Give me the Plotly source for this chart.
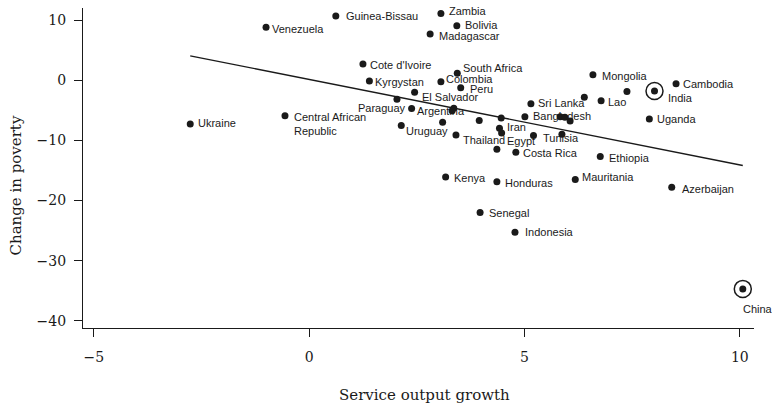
import numpy as np
import plotly.graph_objects as go

# Countries: service output growth vs. change in poverty
countries = [
    "Ukraine", "Central African<br>Republic", "Venezuela", "Guinea-Bissau", "Zambia",
    "Bolivia", "Madagascar", "Cote d'Ivoire", "Kyrgystan", "South Africa",
    "Colombia", "Peru", "El Salvador", "Paraguay", "Argentina",
    "Uruguay", "Thailand", "Iran", "Egypt", "Costa Rica",
    "Bangladesh", "Sri Lanka", "Lao", "Tunisia", "Ethiopia",
    "Mongolia", "Cambodia", "India", "Uganda", "Azerbaijan",
    "Kenya", "Honduras", "Mauritania", "Senegal", "Indonesia",
    "China",
]
service_growth = [
    -2.76, -0.56, -1.00, 0.62, 3.06,
    3.43, 2.81, 1.25, 1.40, 3.44,
    3.06, 3.52, 2.45, 2.04, 2.38,
    2.14, 3.41, 4.42, 4.47, 4.80,
    5.01, 5.15, 6.78, 5.21, 6.76,
    6.59, 8.52, 8.02, 7.90, 8.42,
    3.17, 4.36, 6.18, 3.97, 4.78,
    10.07,
]
poverty_change = [
    -7.3, -5.9, 8.8, 10.66, 11.1,
    9.06, 7.67, 2.69, -0.13, 1.15,
    -0.25, -1.25, -2.0, -3.17, -4.7,
    -7.55, -9.1, -8.0, -8.8, -12.0,
    -6.06, -3.9, -3.4, -9.2, -12.7,
    0.92, -0.58, -1.8, -6.45, -17.8,
    -16.1, -16.9, -16.5, -22.0, -25.3,
    -34.7,
]

# Observations drawn without a name label
unlabeled_growth = [3.36, 3.32, 3.10, 3.95, 4.46, 4.36, 6.39, 7.38, 5.83, 5.94, 6.06, 5.87]
unlabeled_poverty = [-4.65, -5.1, -7.0, -6.7, -6.3, -11.5, -2.85, -1.9, -6.06, -6.16, -6.78, -9.0]

# Countries singled out with a ring
highlighted = ["India", "China"]

x_ticks = [-5, 0, 5, 10]
y_ticks = [10, 0, -10, -20, -30, -40]

# Label placement: pixel offset (right, down) of each label from its dot, and anchor side
label_offsets = {
    "Ukraine": (6.7, -1, "left"),
    "Central African<br>Republic": (7.7, 8.8, "left"),
    "Venezuela": (5, 1.5, "left"),
    "Guinea-Bissau": (9.3, 0, "left"),
    "Zambia": (7, -2.6, "left"),
    "Bolivia": (7.3, -1, "left"),
    "Madagascar": (7.7, 2, "left"),
    "Cote d'Ivoire": (6.3, 1.3, "left"),
    "Kyrgystan": (4.7, 1.3, "left"),
    "South Africa": (4.4, -5.6, "left"),
    "Colombia": (4, -3, "left"),
    "Peru": (8.3, 1.6, "left"),
    "El Salvador": (6.4, 5, "left"),
    "Paraguay": (10, 9, "right"),
    "Argentina": (4, 3, "left"),
    "Uruguay": (3.3, 5, "left"),
    "Thailand": (6, 5, "left"),
    "Iran": (6.4, -1.6, "left"),
    "Egypt": (4.3, 7.4, "left"),
    "Costa Rica": (5.7, 1, "left"),
    "Bangladesh": (7, -0.7, "left"),
    "Sri Lanka": (5.7, -1, "left"),
    "Lao": (5.7, 1, "left"),
    "Tunisia": (8.4, 2.6, "left"),
    "Ethiopia": (7.7, 1, "left"),
    "Mongolia": (8, 1, "left"),
    "Cambodia": (6.3, 0, "left"),
    "India": (12.4, 6.7, "left"),
    "Uganda": (6.4, 0, "left"),
    "Azerbaijan": (9.3, 2, "left"),
    "Kenya": (7, 1, "left"),
    "Honduras": (7.3, 1.3, "left"),
    "Mauritania": (6, -2, "left"),
    "Senegal": (8.3, 0, "left"),
    "Indonesia": (9, 0, "left"),
    "China": (-1, 20, "left"),
}

INK = "#1a1a1a"
SERIF = "DejaVu Serif, Liberation Serif, serif"
LABEL_FONT = "Liberation Sans Narrow, Arial Narrow, Liberation Sans, sans-serif"

all_x = np.array(service_growth + unlabeled_growth)
all_y = np.array(poverty_change + unlabeled_poverty)
slope, intercept = np.polyfit(all_x, all_y, 1)
fit_x = np.array([all_x.min(), all_x.max()])
fit_y = intercept + slope * fit_x

fig = go.Figure()

fig.add_trace(go.Scatter(
    x=fit_x, y=fit_y, mode="lines",
    line=dict(color=INK, width=1.4), hoverinfo="skip", showlegend=False,
))

fig.add_trace(go.Scatter(
    x=service_growth + unlabeled_growth,
    y=poverty_change + unlabeled_poverty,
    mode="markers",
    marker=dict(size=7, color=INK, line=dict(width=0)),
    showlegend=False,
))

hi_idx = [countries.index(c) for c in highlighted]
fig.add_trace(go.Scatter(
    x=[service_growth[i] for i in hi_idx],
    y=[poverty_change[i] for i in hi_idx],
    mode="markers",
    marker=dict(size=17, symbol="circle-open", color=INK, line=dict(width=1.5, color=INK)),
    showlegend=False,
))

for name, gx, py in zip(countries, service_growth, poverty_change):
    dx, dy, side = label_offsets[name]
    fig.add_annotation(
        x=gx, y=py, text=name, showarrow=False,
        xanchor=side, yanchor="middle", align="left",
        xshift=dx, yshift=-dy,
        font=dict(family=LABEL_FONT, size=11, color=INK),
        borderpad=0,
    )

# Axis titles
fig.add_annotation(
    text="Change in poverty", xref="paper", yref="paper",
    x=-0.1, y=0.445, textangle=-90, showarrow=False,
    xanchor="center", yanchor="middle",
    font=dict(family=SERIF, size=15, color=INK),
)
fig.add_annotation(
    text="Service output growth", xref="paper", yref="paper",
    x=0.509, y=-0.209, showarrow=False,
    xanchor="center", yanchor="middle",
    font=dict(family=SERIF, size=15, color=INK),
)

axis_common = dict(
    showline=True, linecolor=INK, linewidth=1.3,
    ticks="outside", ticklen=8, tickwidth=1.3, tickcolor=INK,
    showgrid=False, zeroline=False, mirror=False,
    tickfont=dict(family=SERIF, size=14, color=INK),
)

fig.update_xaxes(range=[-5.25, 10.33], tickvals=x_ticks, ticklabelstandoff=8, **axis_common)
fig.update_yaxes(range=[-41.2, 12], tickvals=y_ticks, ticklabelstandoff=5, **axis_common)

fig.update_layout(
    width=772, height=408,
    margin=dict(l=83, r=18, t=8, b=80, autoexpand=False),
    plot_bgcolor="white", paper_bgcolor="white",
    showlegend=False,
)

fig.write_html("out.html")
